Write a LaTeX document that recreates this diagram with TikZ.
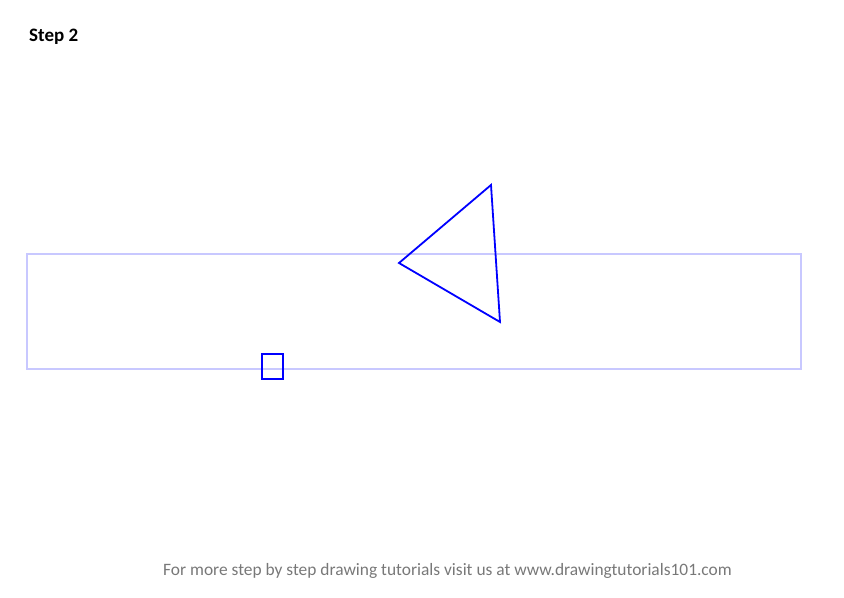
\documentclass[tikz,border=0pt]{standalone}
\usepackage{fontspec}
\setmainfont{Carlito}
\begin{document}
\begin{tikzpicture}[x=1bp,y=-1bp,
  guide/.style={draw={rgb,255:red,200;green,200;blue,255},line width=1.5bp},
  blueline/.style={draw={rgb,255:red,0;green,0;blue,255},line width=1.8bp,line join=miter}]
\useasboundingbox (0,0) rectangle (844,598);
\node[anchor=west,inner sep=0pt,font=\bfseries\fontsize{19bp}{21bp}\selectfont] (title) at (29,37) {Step 2};
\draw[guide] (27,254) rectangle (801,369);
\draw[blueline] (399,263) -- (491,185) -- (500,322) -- cycle;
\draw[blueline] (262,354) rectangle (283,379);
\node[anchor=center,inner sep=0pt,text={rgb,255:red,120;green,120;blue,120},font=\fontsize{17.4bp}{19bp}\selectfont] (footer) at (447.5,571) {For more step by step drawing tutorials visit us at www.drawingtutorials101.com};
\end{tikzpicture}
\end{document}
